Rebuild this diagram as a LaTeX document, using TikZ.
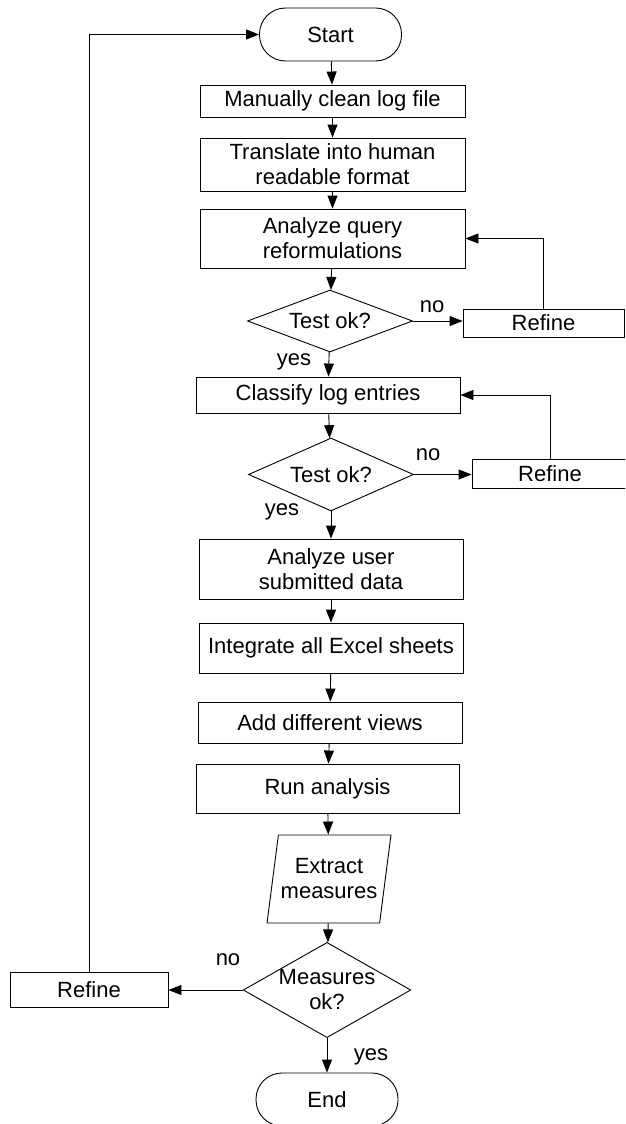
\documentclass[tikz,border=0pt]{standalone}
\usepackage{fontspec}
\setmainfont{Liberation Sans}
\usetikzlibrary{shapes.geometric,arrows.meta}

\begin{document}
\begin{tikzpicture}[x=1pt,y=-1pt,
  every node/.style={font=\fontsize{22}{25}\selectfont, inner sep=0pt},
  stepbox/.style={draw, line width=0.9pt, rectangle, minimum width=#1, align=center},
  stepbox/.default=264,
  term/.style={draw, line width=0.9pt, rectangle, rounded corners=26pt,
               minimum width=142, minimum height=53},
  test/.style={draw, line width=0.9pt, diamond, align=center},
  datain/.style={draw, line width=0.9pt, trapezium, trapezium left angle=75,
                 trapezium right angle=105, trapezium stretches=true,
                 minimum width=124, minimum height=88, align=center},
  flow/.style={line width=0.9pt, -{Triangle[length=13pt,width=10pt]}},
  lbl/.style={inner sep=0pt}
]
\clip (0,0) rectangle (625,1124);

% main column
\node[term] (start) at (330.5,34.5) {Start};
\node[stepbox=265, minimum height=32] (clean) at (332.5,101) {Manually clean log file};
\node[stepbox=265, minimum height=53] (transl) at (332.5,164.5) {Translate into human\\readable format};
\node[stepbox=265, minimum height=59] (query) at (332.5,238.5) {Analyze query\\reformulations};
\node[test, aspect=2.6, minimum width=165, minimum height=62] (t1) at (330,321) {Test ok?};
\node[stepbox=264, minimum height=36] (classify) at (328,395) {Classify log entries};
\node[test, aspect=2.3, minimum width=165, minimum height=73] (t2) at (331,474.5) {Test ok?};
\node[stepbox=264, minimum height=60] (user) at (331,569) {Analyze user\\submitted data};
\node[stepbox=264, minimum height=50] (excel) at (331,648) {Integrate all Excel sheets};
\node[stepbox=264, minimum height=41] (views) at (330,722.5) {Add different views};
\node[stepbox=263, minimum height=49] (run) at (327.5,788.5) {Run analysis};
\node[datain] (extract) at (329,879) {Extract\\measures};
\node[test, aspect=1.76, minimum width=162, minimum height=92] (t3) at (327,990) {Measures\\ok?};
\node[term] (end) at (327,1099.5) {End};

% refinement boxes
\node[stepbox=161, minimum height=28] (ref1) at (543.5,323) {Refine};
\node[stepbox=156, minimum height=29] (ref2) at (550,473.5) {Refine};
\node[stepbox=158, minimum height=35] (ref3) at (89,989.5) {Refine};

% main flow
\draw[flow] (start) -- (clean);
\draw[flow] (clean) -- (transl);
\draw[flow] (transl) -- (query);
\draw[flow] (query) -- (t1);
\draw[flow] (t1) -- (classify);
\draw[flow] (classify) -- (t2);
\draw[flow] (t2) -- (user);
\draw[flow] (user) -- (excel);
\draw[flow] (excel) -- (views);
\draw[flow] (views) -- (run);
\draw[flow] (run) -- (extract);
\draw[flow] (extract) -- (t3);
\draw[flow] (t3) -- (end);

% refinement loops
\draw[flow] (t1.east) -- (t1.east -| ref1.west);
\draw[flow] (ref1.north) |- (query.east);
\draw[flow] (t2.east) -- (t2.east -| ref2.west);
\draw[flow] (ref2.north) |- (classify.east);
\draw[flow] (t3.west) -- (t3.west -| ref3.east);
\draw[flow] (ref3.north) |- (start.west);

% branch labels
\node[lbl] (no1) at (432,307) {no};
\node[lbl] (yes1) at (294,362) {yes};
\node[lbl] (no2) at (428,455) {no};
\node[lbl] (yes2) at (282,512) {yes};
\node[lbl] (no3) at (228,960) {no};
\node[lbl] (yes3) at (371,1057) {yes};
\end{tikzpicture}
\end{document}
